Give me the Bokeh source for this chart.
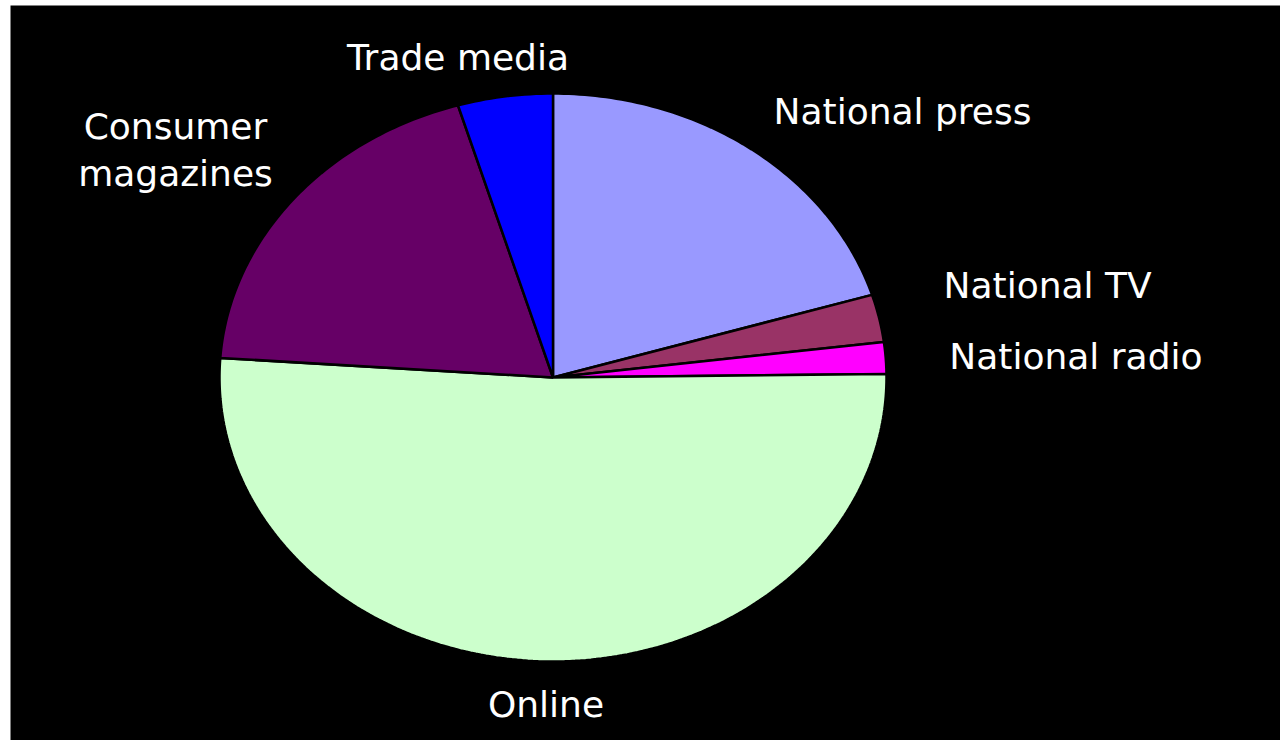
import numpy as np
from bokeh.plotting import figure
from bokeh.models import ColumnDataSource, Range1d
from bokeh.core.properties import value
from bokeh.embed import file_html
from bokeh.resources import INLINE

# ---- data (clockwise from 12 o'clock) ----
categories = ["National press", "National TV", "National radio", "Online",
              "Consumer magazines", "Trade media"]
shares = [20.3, 2.7, 1.8, 51.3, 19.3, 4.6]
colors = ["#9999FF", "#993366", "#FF00FF", "#CCFFCC", "#660066", "#0000FF"]

# label anchors (layout, in pie-radius units)
label_x = [1.048, 1.483, 1.568, -0.021, -1.132, -0.285]
label_y = [0.936, 0.324, 0.074, -1.152, 0.800, 1.127]

# ---- build wedges ----
total = float(sum(shares))
cum = np.concatenate([[0.0], np.cumsum(shares)]) / total
xs, ys = [], []
for i in range(len(shares)):
    a0 = np.pi / 2 - 2 * np.pi * cum[i]
    a1 = np.pi / 2 - 2 * np.pi * cum[i + 1]
    n = max(4, int(abs(a1 - a0) / (2 * np.pi) * 400))
    th = np.linspace(a0, a1, n)
    xs.append([0.0] + list(np.cos(th)) + [0.0])
    ys.append([0.0] + list(np.sin(th)) + [0.0])

src = ColumnDataSource(dict(xs=xs, ys=ys, color=colors, cat=categories))

W, H = 1270, 735
cx, cy, rx, ry = 542.5, 372.0, 333.5, 284.0
p = figure(width=W, height=H, margin=(5, 0, 0, 10),
           x_range=Range1d(-cx / rx, (W - cx) / rx),
           y_range=Range1d(-(H - cy) / ry, cy / ry),
           output_backend="svg", toolbar_location=None, min_border=0,
           background_fill_color="black", border_fill_color="black",
           outline_line_color=None)
p.axis.visible = False
p.grid.visible = False

p.patches("xs", "ys", source=src, fill_color="color", line_color="black",
          line_width=2.5)

lab_text = [c.replace("Consumer magazines", "Consumer\nmagazines") for c in categories]
lsrc = ColumnDataSource(dict(x=label_x, y=label_y, t=lab_text))
p.text("x", "y", text="t", source=lsrc, text_color="white",
       text_font=value("DejaVu Sans"), text_font_size="36px",
       text_align="center", text_baseline="alphabetic", text_line_height=1.15)

open("out.html", "w").write(file_html(p, INLINE))
